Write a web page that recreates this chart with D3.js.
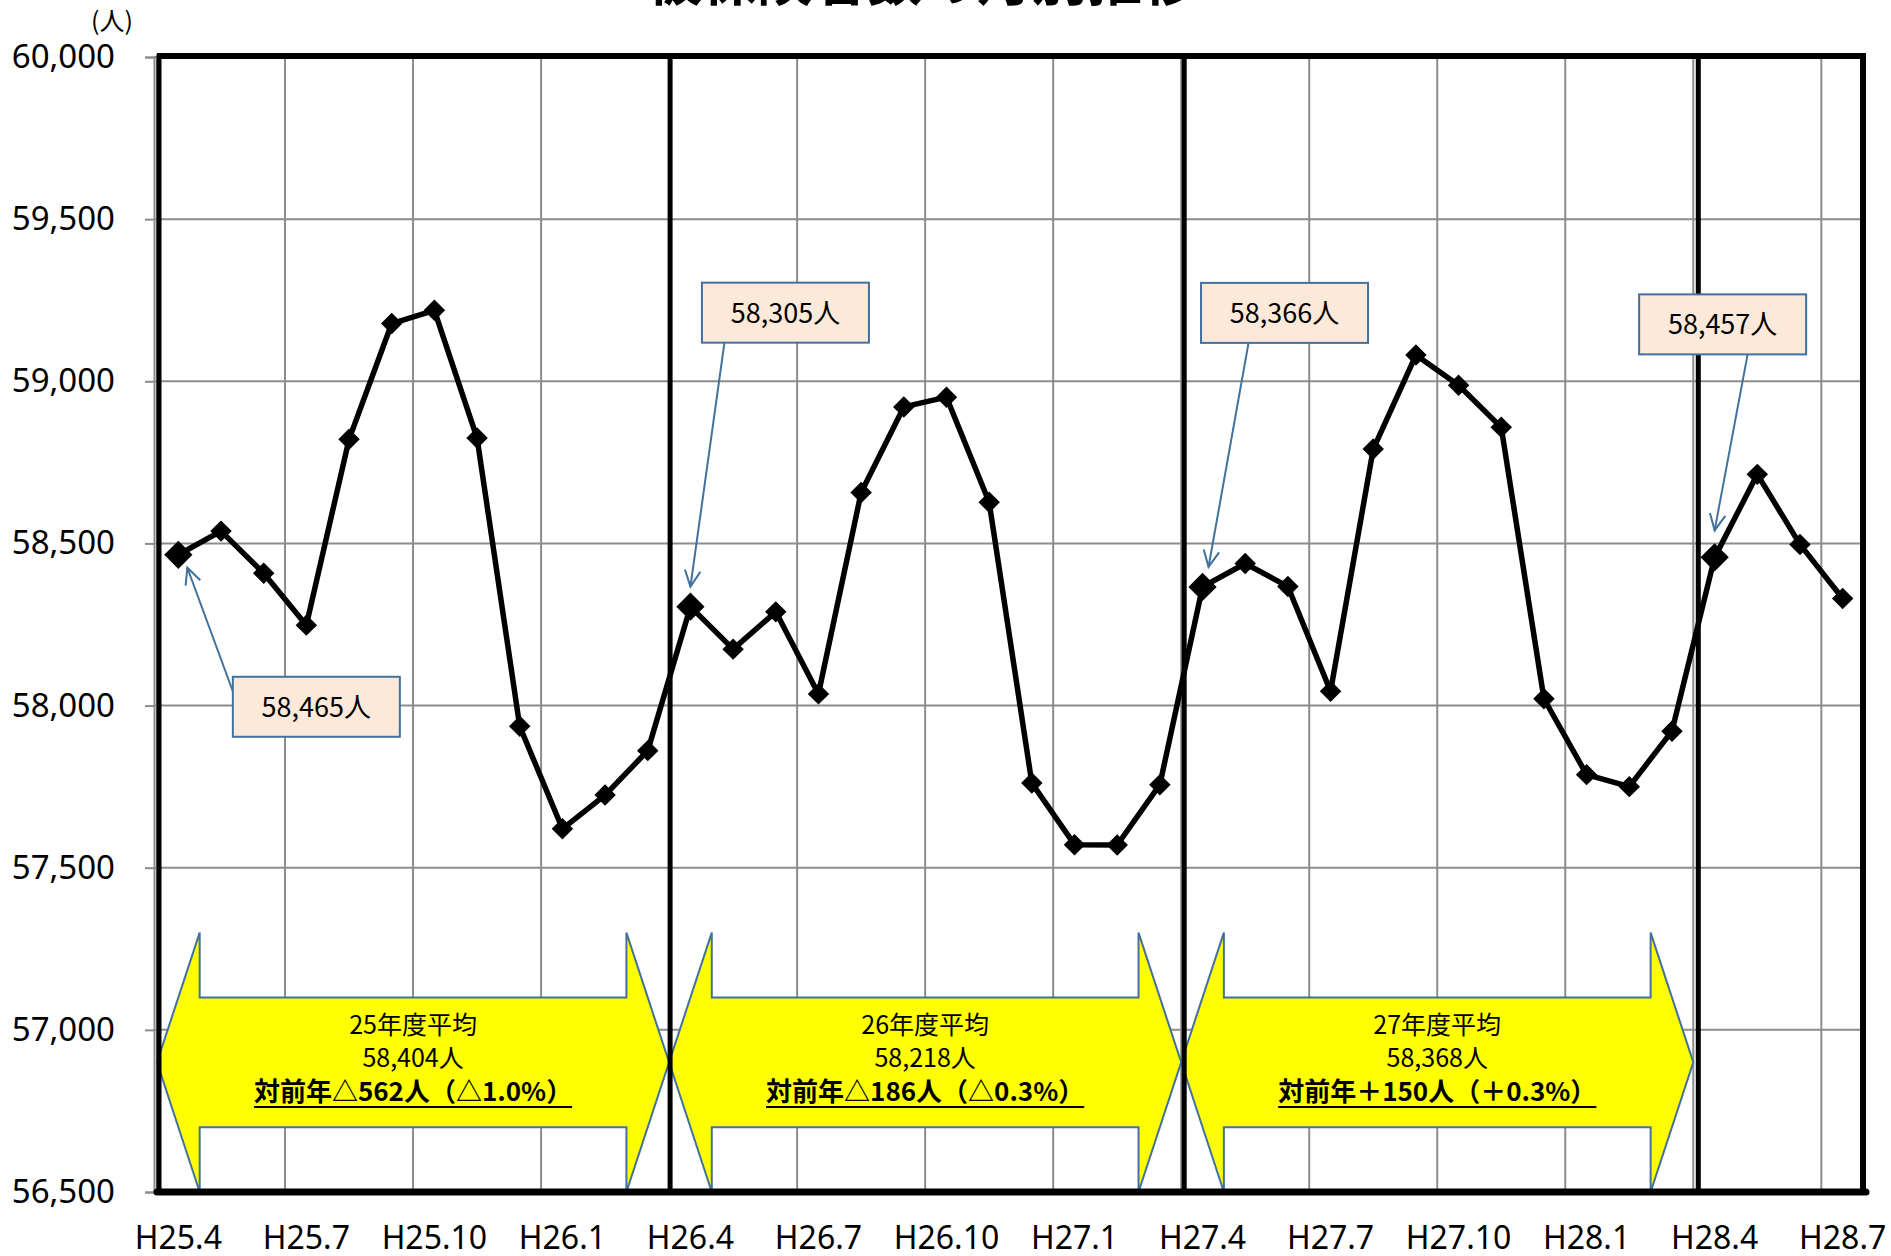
<!DOCTYPE html>
<html>
<head>
<meta charset="utf-8">
<script src="https://cdn.jsdelivr.net/npm/d3@7/dist/d3.min.js"></script>
<style>
  html, body { margin: 0; padding: 0; background: #fff; }
  svg { display: block; }
</style>
</head>
<body>
<svg id="chart" width="1891" height="1256"></svg>
<script>
// ---------------- data ----------------
const categories = [
  "H25.4","H25.5","H25.6","H25.7","H25.8","H25.9","H25.10","H25.11","H25.12","H26.1","H26.2","H26.3",
  "H26.4","H26.5","H26.6","H26.7","H26.8","H26.9","H26.10","H26.11","H26.12","H27.1","H27.2","H27.3",
  "H27.4","H27.5","H27.6","H27.7","H27.8","H27.9","H27.10","H27.11","H27.12","H28.1","H28.2","H28.3",
  "H28.4","H28.5","H28.6","H28.7"
];
const values = [
  58465, 58538, 58408, 58248, 58821, 59178, 59219, 58825, 57936, 57620, 57724, 57861,
  58305, 58174, 58289, 58036, 58657, 58921, 58951, 58627, 57761, 57571, 57570, 57756,
  58366, 58438, 58367, 58044, 58791, 59081, 58988, 58858, 58021, 57787, 57750, 57921,
  58457, 58713, 58497, 58330
];
const yTicks = [56500, 57000, 57500, 58000, 58500, 59000, 59500, 60000];
const xTickLabels = ["H25.4","H25.7","H25.10","H26.1","H26.4","H26.7","H26.10","H27.1","H27.4","H27.7","H27.10","H28.1","H28.4","H28.7"];
const calloutIndex = [0, 12, 24, 36];
const fyStart = [0, 12, 24];
const fyEnd = [12, 24, 36];
const fyTitle = ["25年度平均", "26年度平均", "27年度平均"];
const fyAverage = [58404, 58218, 58368];
const fyCompare = ["対前年△562人（△1.0%）", "対前年△186人（△0.3%）", "対前年＋150人（＋0.3%）"];
const fyBoundaries = [12, 24, 36];
// arrow shape in value units
const arrowHeadTop = 57300, arrowShaftTop = 57100, arrowCenter = 56900, arrowShaftBottom = 56700, arrowHeadBottom = 56500;

// ---------------- layout ----------------
const L = 157, R = 1864, T = 57, B = 1192;
const svg = d3.select("#chart");
const x = d3.scaleBand().domain(categories).range([L, R]).padding(0);
const bw = x.bandwidth();
const xb = i => L + i * bw;               // band boundary i
const xc = c => x(c) + bw / 2;            // category center
const y = d3.scaleLinear().domain([56500, 60000]).range([B, T]);

const gridColor = "#8c8c8c";
const blue = "#41719C";

// title (cut off at top)
svg.append("text")
  .attr("x", 922).attr("y", 0)
  .attr("text-anchor", "middle")
  .attr("font-family", "'Noto Sans CJK JP'")
  .attr("font-weight", "bold")
  .attr("font-size", 55)
  .text("被保険者数の月別推移");

// horizontal gridlines
svg.append("g").selectAll("line").data(yTicks).join("line")
  .attr("x1", L - 3).attr("x2", R)
  .attr("y1", d => y(d)).attr("y2", d => y(d))
  .attr("stroke", gridColor).attr("stroke-width", 2);

// vertical gridlines every 3 months
const vIdx = d3.range(0, categories.length + 1, 3);
svg.append("g").selectAll("line").data(vIdx).join("line")
  .attr("x1", d => xb(d)).attr("x2", d => xb(d))
  .attr("y1", T).attr("y2", B)
  .attr("stroke", gridColor).attr("stroke-width", 2);

// y axis (gray) with outside ticks
const yAxis = d3.axisLeft(y).tickValues(yTicks).tickSize(9).tickFormat(d3.format(","));
const gy = svg.append("g").attr("transform", `translate(${L - 3},0)`).call(yAxis);
gy.select(".domain").attr("stroke", gridColor).attr("stroke-width", 2);
gy.selectAll(".tick line").attr("stroke", gridColor).attr("stroke-width", 2);
gy.selectAll(".tick text")
  .attr("x", -39)
  .attr("font-family", "'Noto Sans', sans-serif")
  .attr("font-size", 33)
  .attr("fill", "#000");

// unit label
svg.append("text")
  .attr("x", 112).attr("y", 30)
  .attr("text-anchor", "middle")
  .attr("font-family", "'Noto Sans CJK JP'")
  .attr("font-size", 25)
  .text("(人)");

// x axis labels
const xAxis = d3.axisBottom(x).tickValues(xTickLabels).tickSize(0);
const gx = svg.append("g").attr("transform", `translate(0,${B})`).call(xAxis);
gx.select(".domain").remove();
gx.selectAll(".tick text")
  .attr("y", 34)
  .attr("dy", "0.71em")
  .attr("font-family", "'Noto Sans', sans-serif")
  .attr("font-size", 32)
  .attr("fill", "#000");

// yellow double arrows
const arrows = svg.append("g");
fyStart.forEach((s, k) => {
  const x0 = xb(s), x1 = xb(fyEnd[k]), hl = bw;
  const p = d3.path();
  p.moveTo(x0, y(arrowCenter));
  p.lineTo(x0 + hl, y(arrowHeadTop));
  p.lineTo(x0 + hl, y(arrowShaftTop));
  p.lineTo(x1 - hl, y(arrowShaftTop));
  p.lineTo(x1 - hl, y(arrowHeadTop));
  p.lineTo(x1, y(arrowCenter));
  p.lineTo(x1 - hl, y(arrowHeadBottom));
  p.lineTo(x1 - hl, y(arrowShaftBottom));
  p.lineTo(x0 + hl, y(arrowShaftBottom));
  p.lineTo(x0 + hl, y(arrowHeadBottom));
  p.closePath();
  arrows.append("path").attr("d", p.toString())
    .attr("fill", "#FFFF00").attr("stroke", blue).attr("stroke-width", 2)
    .attr("stroke-linejoin", "miter");
  const cx = (x0 + x1) / 2;
  const g = arrows.append("g").attr("font-family", "'Noto Sans CJK JP'").attr("text-anchor", "middle").attr("fill", "#000");
  g.append("text").attr("x", cx).attr("y", 1034).attr("font-size", 25).text(fyTitle[k]);
  g.append("text").attr("x", cx).attr("y", 1067).attr("font-size", 25).text(d3.format(",")(fyAverage[k]) + "人");
  const t3 = g.append("text").attr("x", cx).attr("y", 1101).attr("font-size", 26).attr("font-weight", "bold").text(fyCompare[k]);
  const bb = t3.node().getBBox();
  g.append("line").attr("x1", bb.x).attr("x2", bb.x + bb.width)
    .attr("y1", 1107).attr("y2", 1107).attr("stroke", "#000").attr("stroke-width", 2);
});

// fiscal year boundary lines
svg.append("g").selectAll("line").data(fyBoundaries).join("line")
  .attr("x1", (d, i) => xb(d) + 1 + 2 * i).attr("x2", (d, i) => xb(d) + 1 + 2 * i)
  .attr("y1", T).attr("y2", B)
  .attr("stroke", "#000").attr("stroke-width", 5);

// frame
svg.append("line").attr("x1", L).attr("x2", R + 2).attr("y1", T - 1).attr("y2", T - 1).attr("stroke", "#000").attr("stroke-width", 6);
svg.append("line").attr("x1", L + 2).attr("x2", L + 2).attr("y1", T - 3).attr("y2", B).attr("stroke", "#000").attr("stroke-width", 5);
svg.append("line").attr("x1", R - 1).attr("x2", R - 1).attr("y1", T - 3).attr("y2", B).attr("stroke", "#000").attr("stroke-width", 6);
svg.append("line").attr("x1", L).attr("x2", R + 2).attr("y1", B).attr("y2", B).attr("stroke", "#000").attr("stroke-width", 7).attr("stroke-linecap", "round");

// data line
const line = d3.line().x((d, i) => xc(categories[i])).y(d => y(d));
svg.append("path").datum(values)
  .attr("d", line)
  .attr("fill", "none").attr("stroke", "#000").attr("stroke-width", 5.5)
  .attr("stroke-linejoin", "round");

// markers
svg.append("g").selectAll("path").data(values).join("path")
  .attr("d", (d, i) => d3.symbol().type(d3.symbolSquare).size(calloutIndex.includes(i) ? 400 : 230)())
  .attr("transform", (d, i) => `translate(${xc(categories[i])},${y(d)}) rotate(45)`)
  .attr("fill", "#000");

// callouts: box offset from point, arrow start on box, arrow tip offset from point
const calloutLayout = [
  { bx: 138, by: 152, sx: -83, sy: -14, tx: 9, ty: 13 },
  { bx: 95, by: -294, sx: -61, sy: 30, tx: 0, ty: -20 },
  { bx: 82, by: -274, sx: -36, sy: 30, tx: 6, ty: -20 },
  { bx: 8, by: -233, sx: 25, sy: 30, tx: 0, ty: -27 }
];
const boxW = 167, boxH = 60;
const cg = svg.append("g");
calloutIndex.forEach((idx, k) => {
  const px = xc(categories[idx]), py = y(values[idx]);
  const lay = calloutLayout[k];
  const cx = px + lay.bx, cy = py + lay.by;
  const sx = cx + lay.sx, sy = cy + lay.sy;
  const tx = px + lay.tx, ty = py + lay.ty;
  cg.append("line").attr("x1", sx).attr("y1", sy).attr("x2", tx).attr("y2", ty)
    .attr("stroke", blue).attr("stroke-width", 2);
  const ang = Math.atan2(ty - sy, tx - sx);
  const hlen = 18, spread = Math.PI / 7;
  const hp = d3.path();
  hp.moveTo(tx - hlen * Math.cos(ang - spread), ty - hlen * Math.sin(ang - spread));
  hp.lineTo(tx, ty);
  hp.lineTo(tx - hlen * Math.cos(ang + spread), ty - hlen * Math.sin(ang + spread));
  cg.append("path").attr("d", hp.toString()).attr("fill", "none").attr("stroke", blue).attr("stroke-width", 2);
  cg.append("rect").attr("x", cx - boxW / 2).attr("y", cy - boxH / 2).attr("width", boxW).attr("height", boxH)
    .attr("fill", "#FDE9D9").attr("stroke", blue).attr("stroke-width", 2);
  cg.append("text").attr("x", cx).attr("y", cy + 10)
    .attr("text-anchor", "middle")
    .attr("font-family", "'Noto Sans CJK JP'").attr("font-size", 27).attr("fill", "#000")
    .text(d3.format(",")(values[idx]) + "人");
});
</script>
</body>
</html>
